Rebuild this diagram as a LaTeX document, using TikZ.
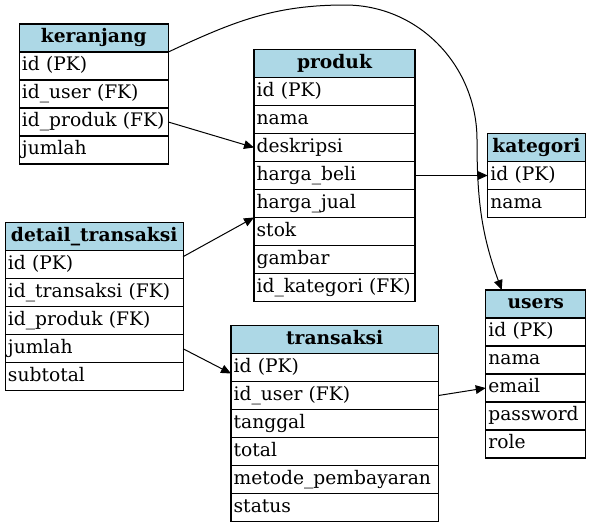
\documentclass[tikz,border=0pt]{standalone}
\usepackage{fontspec}
\setmainfont{DejaVu Serif}
\usetikzlibrary{arrows.meta}
\definecolor{lightblue}{HTML}{ADD8E6}

\begin{document}
\begin{tikzpicture}[x=0.75pt,y=-0.75pt,>={Triangle[length=7.5pt,width=6.5pt]},
  font=\fontsize{14}{16}\selectfont]
\useasboundingbox (0,0) rectangle (591,526);

\tikzstyle{cell}=[draw,line width=0.8pt,anchor=north west,minimum height=21pt,inner xsep=2pt,inner ysep=0pt,outer sep=0pt,text height=10pt,text depth=3pt]
\tikzstyle{head}=[cell,fill=lightblue,align=center,font=\fontsize{14}{16}\selectfont\bfseries]
\tikzstyle{field}=[cell,align=left]
\tikzstyle{link}=[->,line width=0.75pt]

% keranjang
\node[head,text width=107.75pt] (keranjang) at (19.3,24) {keranjang};
\foreach \f [count=\i] in {id (PK),id\_user (FK),id\_produk (FK),jumlah}
  \node[field,text width=107.75pt] (keranjang-\i) at (19.3,24+28*\i) {\f};

% produk
\node[head,text width=116.75pt] (produk) at (254,49.5) {produk};
\foreach \f [count=\i] in {id (PK),nama,deskripsi,harga\_beli,harga\_jual,stok,gambar,id\_kategori (FK)}
  \node[field,text width=116.75pt] (produk-\i) at (254,49.5+28*\i) {\f};

% kategori
\node[head,text width=69pt] (kategori) at (487.7,133.5) {kategori};
\foreach \f [count=\i] in {id (PK),nama}
  \node[field,text width=69pt] (kategori-\i) at (487.7,133.5+28*\i) {\f};

% detail_transaksi
\node[head,text width=129.3pt] (detail) at (5.3,222.7) {detail\_transaksi};
\foreach \f [count=\i] in {id (PK),id\_transaksi (FK),id\_produk (FK),jumlah,subtotal}
  \node[field,text width=129.3pt] (detail-\i) at (5.3,222.7+28*\i) {\f};

% transaksi
\node[head,text width=151.5pt] (transaksi) at (231,325.5) {transaksi};
\foreach \f [count=\i] in {id (PK),id\_user (FK),tanggal,total,metode\_pembayaran,status}
  \node[field,text width=151.5pt] (transaksi-\i) at (231,325.5+28*\i) {\f};

% users
\node[head,text width=71pt] (users) at (485.7,290) {users};
\foreach \f [count=\i] in {id (PK),nama,email,password,role}
  \node[field,text width=71pt] (users-\i) at (485.7,290+28*\i) {\f};

% relations
\coordinate (top) at (345,5);
\coordinate (turn) at (477,140);
\draw[link] (keranjang-3.east) -- (produk-3.west);
\draw[link] (produk-4.east) -- (kategori-1.west);
\draw[link] ([yshift=6pt]detail-1.east) -- (produk-5.south west);
\draw[link] (detail-4.east) -- ([yshift=-4.5pt]transaksi-1.west);
\draw[link] (transaksi-2.east) -- (users-3.west);
\draw[link] (keranjang.south east) to[out=25,in=180] (top) to[out=0,in=90] (turn)
  to[out=-90,in=110] ([xshift=12pt]users.north west);
\end{tikzpicture}
\end{document}
